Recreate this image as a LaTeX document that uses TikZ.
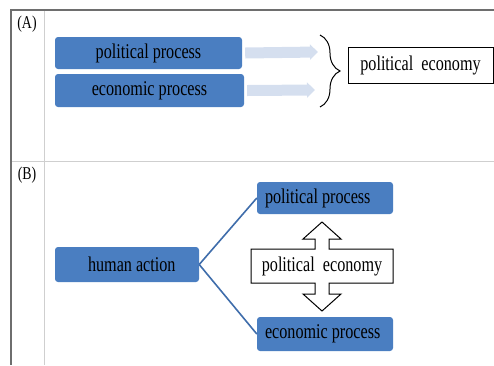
\documentclass[tikz,border=0pt]{standalone}
\usepackage{fontspec}
\setmainfont[FakeStretch=0.77]{Liberation Serif}
\usetikzlibrary{calc,arrows.meta,decorations.pathreplacing}
\definecolor{frameline}{HTML}{6E6E6E}
\definecolor{gridline}{HTML}{CFCFCF}
\definecolor{boxblue}{HTML}{4A7EC1}
\definecolor{paleblue}{HTML}{D5DFEF}
\definecolor{linkblue}{HTML}{3F6DAB}
\newcommand{\lft}[2]{\makebox[#1][l]{#2}}
\tikzset{
  outer/.style={draw=frameline, line width=1.3pt},
  inner/.style={draw=gridline, line width=1pt},
  txt/.style={text=black, font=\fontsize{21}{24}\selectfont},
  proc/.style={txt, fill=boxblue, rounded corners=3pt, inner sep=0pt, minimum height=32pt},
  plain/.style={txt, draw=black, fill=white, line width=1pt, inner sep=0pt},
  fatarrow/.style={draw=paleblue, line width=11pt, -{Triangle[length=8pt,width=15pt]}},
  brc/.style={draw=black, line width=1pt, decorate, decoration={brace, amplitude=20pt}},
  conn/.style={draw=linkblue, line width=1.6pt},
  callout/.style={draw=black, fill=white, line width=1pt, line join=miter},
  lab/.style={text=black, font=\fontsize{18}{21}\selectfont, inner sep=0pt},
}
\begin{document}
\begin{tikzpicture}[x=1pt,y=-1pt]
  \useasboundingbox (0,0) rectangle (494,365);
  % table
  \draw[inner] (44,10) -- (44,365);
  \draw[inner] (11,161) -- (494,161);
  \draw[outer] (494,10) -- (11,10) -- (11,365);
  \node[lab] (labA) at (27,24) {(A)};
  \node[lab] (labB) at (27,175) {(B)};

  % (A)
  \node[proc, minimum width=187pt] (ppA) at (148.5,53) {political process};
  \node[proc, minimum width=189pt, minimum height=33pt] (epA) at (149.5,90.5) {economic process};
  \coordinate (tipP) at (318,52);
  \coordinate (tipE) at (315,90);
  \draw[fatarrow] ([xshift=3pt]ppA.east) -- (tipP);
  \draw[fatarrow] ([xshift=3pt]epA.east) -- (tipE);
  \coordinate (brTop) at (320,35);
  \coordinate (brBot) at (320,107);
  \draw[brc] (brTop) -- (brBot);
  \node[plain, minimum width=145pt, minimum height=36pt] (peA) at (420.5,65) {political\ \ economy};

  % (B)
  \node[proc, inner xsep=8pt, minimum height=35pt] (ha) at (127,264.5) {\lft{128pt}{\hspace*{25pt}human action}};
  \node[proc, inner xsep=8pt] (ppB) at (325,198) {\lft{120pt}{political process}};
  \node[proc, inner xsep=8pt, minimum height=34pt] (epB) at (325,334) {\lft{120pt}{economic process}};
  \draw[conn] (ha.east) -- (ppB.west);
  \draw[conn] (ha.east) -- (epB.west);
  \coordinate (peC) at (322,266);
  \draw[callout, shift={(peC)}] (-71,-17) -- (-7,-17) -- (-7,-27) -- (-19,-27) -- (0,-44)
    -- (19,-27) -- (7,-27) -- (7,-17) -- (71,-17) -- (71,17) -- (7,17) -- (7,28)
    -- (19,28) -- (0,45) -- (-19,28) -- (-7,28) -- (-7,17) -- (-71,17) -- cycle;
  \node[txt, inner sep=0pt] (peB) at (peC) {political\ \ economy};
\end{tikzpicture}
\end{document}
